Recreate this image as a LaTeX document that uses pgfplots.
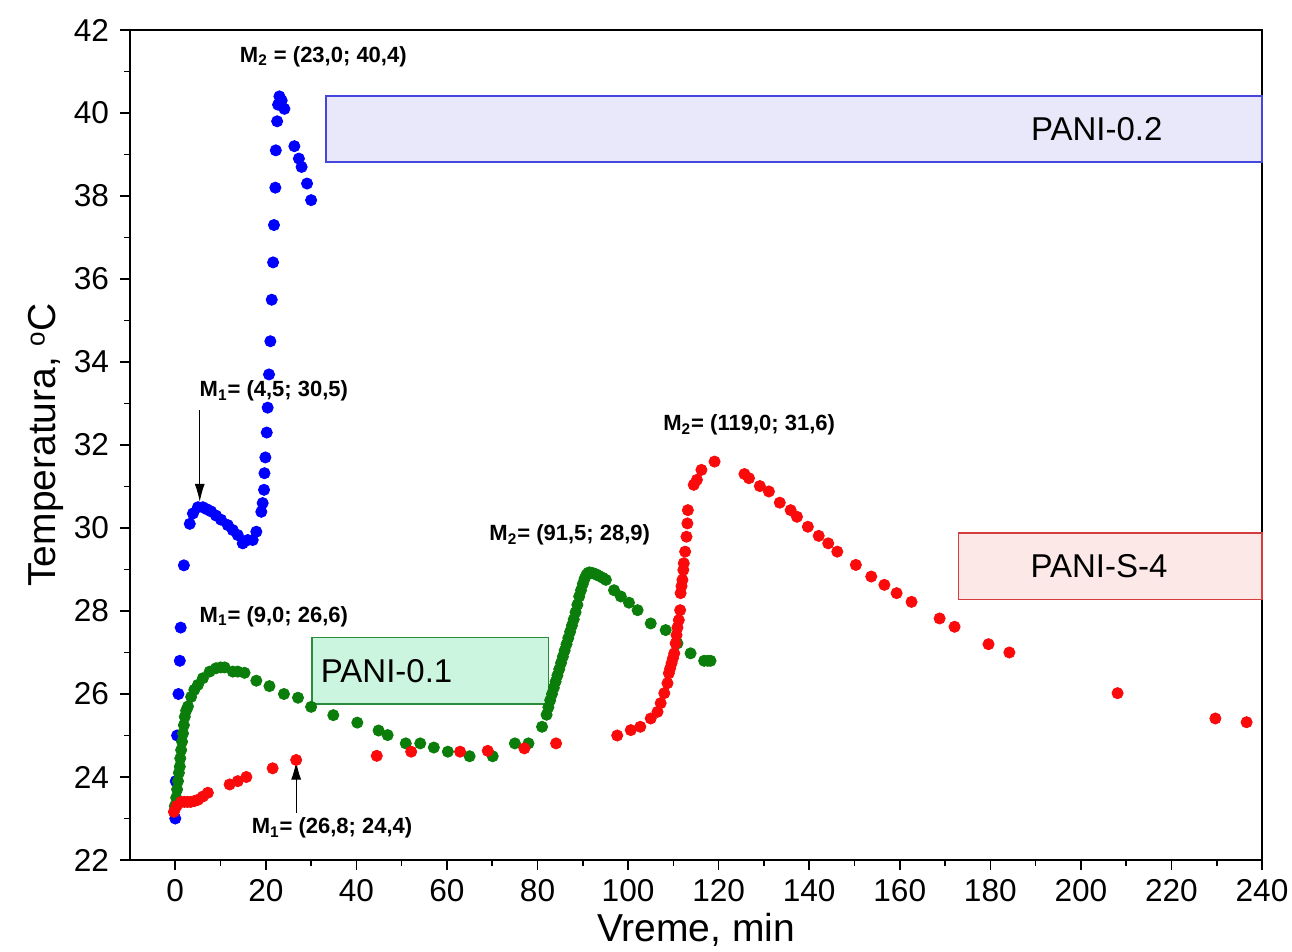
\documentclass[border=0pt]{standalone}
\usepackage{pgfplots}
\pgfplotsset{compat=1.18}
\usepackage{fontspec}
\setmainfont{Liberation Sans}
\usetikzlibrary{arrows.meta}
\definecolor{cblue}{RGB}{0,0,255}
\definecolor{cgreen}{RGB}{10,125,10}
\definecolor{cred}{RGB}{250,10,10}
\definecolor{fblue}{RGB}{232,232,250}
\definecolor{bblue}{RGB}{70,70,220}
\definecolor{fgreen}{RGB}{204,245,224}
\definecolor{bgreen}{RGB}{40,140,60}
\definecolor{fred}{RGB}{253,232,232}
\definecolor{bred}{RGB}{215,60,60}

\pgfplotstableread{
x y
0.0 23.0
0.1 23.9
0.4 25.0
0.7 26.0
1.0 26.8
1.2 27.6
1.9 29.1
3.2 30.1
3.9 30.35
5.0 30.5
6.1 30.5
7.0 30.45
7.9 30.4
9.0 30.3
10.1 30.2
11.6 30.07
12.7 29.95
13.8 29.83
14.9 29.63
16.0 29.71
17.1 29.71
17.9 29.91
19.0 30.39
19.3 30.6
19.6 30.92
19.7 31.32
19.9 31.7
20.2 32.3
20.4 32.9
20.7 33.7
21.0 34.5
21.3 35.5
21.6 36.4
21.8 37.3
22.1 38.2
22.2 39.1
22.5 39.8
22.7 40.2
23.0 40.4
23.5 40.3
24.1 40.1
26.3 39.2
27.3 38.9
27.9 38.7
29.1 38.3
30.0 37.9
}\blue

\pgfplotstableread{
x y
-0.1 23.3
0.2 23.5
0.4 23.7
0.6 23.9
0.8 24.1
1.0 24.25
1.1 24.45
1.3 24.65
1.5 24.85
1.7 25.05
1.9 25.25
2.1 25.45
2.4 25.6
2.8 25.7
3.5 25.93
4.2 26.1
5.0 26.22
6.1 26.38
7.6 26.54
9.0 26.62
10.0 26.64
10.9 26.64
12.7 26.54
13.8 26.54
15.3 26.51
17.9 26.32
20.8 26.19
24.0 26.0
27.1 25.91
30.0 25.69
34.9 25.49
40.2 25.31
44.9 25.12
46.9 25.01
50.9 24.81
54.1 24.81
57.1 24.71
60.2 24.61
65.0 24.5
70.1 24.5
75.0 24.81
78.0 24.81
81.0 25.21
82.0 25.5
82.4 25.68
82.8 25.85
83.2 26.0
83.6 26.15
84.0 26.3
84.4 26.45
84.8 26.6
85.2 26.75
85.6 26.9
86.0 27.05
86.4 27.2
86.8 27.35
87.2 27.5
87.6 27.65
88.0 27.8
88.4 27.97
88.8 28.15
89.2 28.35
89.6 28.5
90.0 28.65
90.4 28.78
90.8 28.87
91.2 28.92
91.5 28.93
92.0 28.92
92.5 28.9
93.0 28.88
93.5 28.85
94.4 28.8
95.1 28.75
96.9 28.5
98.4 28.35
100.2 28.2
102.1 28.02
105.0 27.7
108.3 27.54
110.9 27.22
113.8 26.98
116.8 26.8
117.6 26.8
118.2 26.8
}\green

\pgfplotstableread{
x y
-0.3 23.16
0.3 23.3
1.3 23.4
2.0 23.4
2.7 23.4
3.4 23.4
4.2 23.42
5.0 23.45
6.1 23.53
7.2 23.62
12.0 23.82
13.8 23.9
15.7 24.0
21.5 24.21
26.7 24.41
44.5 24.51
52.1 24.61
62.9 24.61
69.0 24.63
77.1 24.69
84.1 24.81
97.6 25.0
100.6 25.13
102.7 25.21
105.0 25.41
106.5 25.57
107.2 25.78
108.0 26.02
108.7 26.26
109.0 26.5
109.3 26.62
109.6 26.74
109.9 26.86
110.2 26.98
110.5 27.22
110.7 27.42
110.9 27.6
111.2 27.78
111.5 28.02
111.6 28.43
111.8 28.6
112.0 28.75
112.2 28.99
112.3 29.15
112.6 29.43
112.9 29.79
113.1 30.11
113.2 30.43
114.5 31.04
115.2 31.16
116.2 31.4
119.1 31.6
125.7 31.3
126.7 31.2
129.1 31.01
131.1 30.88
133.5 30.61
135.9 30.43
137.3 30.27
139.7 30.03
142.1 29.81
144.2 29.63
146.2 29.43
150.3 29.11
153.7 28.83
156.6 28.63
159.3 28.43
162.6 28.22
168.8 27.82
172.1 27.62
179.6 27.2
184.2 27.0
208.1 26.02
229.7 25.41
236.6 25.32
}\red

\begin{document}
\begin{tikzpicture}
\begin{axis}[
  scale only axis,
  width=566pt, height=415pt,
  xmin=-10, xmax=240, ymin=22, ymax=42,
  xtick={0,20,...,240}, ytick={22,24,...,42},
  minor x tick num=1, minor y tick num=1,
  tick align=outside,
  tick pos=left,
  major tick length=5pt, minor tick length=3pt,
  every tick/.style={black, line width=0.8pt},
  axis line style={line width=1pt},
  /pgf/number format/assume math mode=true,
  ticklabel style={font=\fontsize{15.8}{18}\selectfont},
  xticklabel style={yshift=-1pt},
  yticklabel style={xshift=-2pt},
  xlabel={Vreme, min},
  ylabel={Temperatura, \raisebox{0.55ex}{\fontsize{13}{14}\selectfont o}C},
  label style={font=\fontsize{19.5}{24}\selectfont},
  xlabel style={at={(axis description cs:0.5,0)}, anchor=base, yshift=-40.5pt},
  ylabel style={yshift=-2pt},
  clip=false,
]
\draw[bblue, fill=fblue, line width=0.6pt] (axis cs:33.3,38.82) rectangle (axis cs:240,40.41);
\draw[bgreen, fill=fgreen, line width=0.6pt] (axis cs:30.2,25.76) rectangle (axis cs:82.5,27.37);
\draw[bred, fill=fred, line width=0.6pt] (axis cs:173,28.27) rectangle (axis cs:240,29.88);
\node[font=\fontsize{16.5}{18}\selectfont] at (axis cs:203.5,39.6) {PANI-0.2};
\node[font=\fontsize{16.5}{18}\selectfont, anchor=west] at (axis cs:30.6,26.55) {PANI-0.1};
\node[font=\fontsize{16.5}{18}\selectfont] at (axis cs:204,29.08) {PANI-S-4};

\addplot[only marks, mark=*, mark size=2.8pt, color=cblue] table {\blue};
\addplot[only marks, mark=*, mark size=2.8pt, color=cgreen] table {\green};
\addplot[only marks, mark=*, mark size=2.8pt, color=cred] table {\red};

\begin{scope}[font=\fontsize{11}{12}\bfseries]
\node[anchor=west, inner sep=0pt] at (axis cs:14.2,41.35) {M\textsubscript{2} = (23,0; 40,4)};
\node[anchor=west, inner sep=0pt] at (axis cs:5.3,33.3) {M\textsubscript{1}= (4,5; 30,5)};
\node[anchor=west, inner sep=0pt] at (axis cs:5.3,27.86) {M\textsubscript{1}= (9,0; 26,6)};
\node[anchor=west, inner sep=0pt] at (axis cs:16.8,22.77) {M\textsubscript{1}= (26,8; 24,4)};
\node[anchor=west, inner sep=0pt] at (axis cs:69.3,29.83) {M\textsubscript{2}= (91,5; 28,9)};
\node[anchor=west, inner sep=0pt] at (axis cs:107.7,32.48) {M\textsubscript{2}= (119,0; 31,6)};
\end{scope}
\draw[-{Latex[length=9pt,width=5pt]}, line width=0.5pt] (axis cs:5.4,32.84) -- (axis cs:5.4,30.63);
\draw[-{Latex[length=9pt,width=5pt]}, line width=0.5pt] (axis cs:26.7,23.13) -- (axis cs:26.7,24.37);
\end{axis}
\pgfresetboundingbox
\path[use as bounding box] ([xshift=-65pt,yshift=-45.5pt]current axis.south west) rectangle ([xshift=15pt,yshift=15pt]current axis.north east);
\end{tikzpicture}
\end{document}
